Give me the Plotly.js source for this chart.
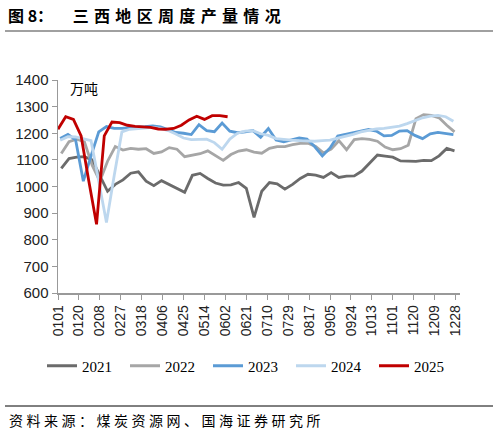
<!DOCTYPE html>
<html>
<head>
<meta charset="utf-8">
<script src="https://cdn.plot.ly/plotly-3.0.1.min.js"></script>
<style>
  html, body { margin: 0; padding: 0; background: #fff; }
  #chart { width: 499px; height: 434px; }
</style>
</head>
<body>
<div id="chart"></div>
<script>
// x axis tick labels (MMDD), one every 19 days from Jan 1
var tickLabels = ['0101','0120','0208','0227','0318','0406','0425','0514','0602','0621',
                  '0710','0729','0817','0905','0924','1013','1101','1120','1209','1228'];

var years = ['2021', '2022', '2023', '2024', '2025'];

// day-of-year of the first weekly reading for each year
var startDay = { '2021': 3, '2022': 3, '2023': 2, '2024': 2, '2025': 0 };

// weekly output, 万吨
var v2021 = [1068,1105,1110,1112,1100,1043,982,1008,1025,1050,1055,1020,1003,1022,1008,995,
             978,1042,1049,1030,1013,1005,1006,1015,993,884,982,1015,1010,990,1008,1030,
             1046,1043,1034,1052,1034,1039,1040,1058,1088,1118,1114,1110,1096,1096,1094,1098,
             1097,1115,1143,1134];
var v2022 = [1124,1168,1178,1168,1080,1020,1095,1150,1137,1143,1140,1142,1124,1130,1146,1140,
             1112,1117,1123,1134,1117,1098,1120,1133,1138,1129,1125,1143,1150,1150,1157,1162,
             1163,1150,1126,1140,1172,1138,1176,1180,1177,1170,1148,1138,1142,1155,1255,1270,
             1267,1258,1230,1205];
var v2023 = [1180,1196,1175,1020,1115,1205,1225,1218,1218,1222,1224,1225,1228,1224,1213,1203,
             1200,1195,1232,1210,1206,1238,1208,1202,1205,1210,1185,1218,1175,1168,1175,1182,
             1178,1150,1115,1145,1190,1196,1203,1210,1214,1208,1190,1192,1208,1210,1192,1180,
             1198,1203,1200,1195];
var v2024 = [1174,1187,1186,1180,1172,1020,865,1040,1205,1215,1218,1220,1222,1218,1210,1197,
             1182,1176,1176,1178,1165,1140,1178,1200,1208,1210,1198,1192,1180,1176,1174,1172,
             1170,1170,1172,1174,1182,1188,1196,1205,1211,1216,1218,1223,1227,1236,1248,1258,
             1264,1267,1262,1245];
var v2025 = [1215,1262,1252,1190,1020,858,1190,1242,1240,1230,1226,1224,1222,1216,1215,1218,
             1230,1250,1264,1252,1266,1266,1262];

var values = { '2021': v2021, '2022': v2022, '2023': v2023, '2024': v2024, '2025': v2025 };
var colors = { '2021': '#6b6b6b', '2022': '#a6a6a6', '2023': '#5b9bd5', '2024': '#bdd7ee', '2025': '#c00000' };

// plot area in pixels, used to place the decorations around it
var W = 499, H = 434;
var plotL = 58, plotR = 460, plotT = 80, plotB = 293;
function px(x) { return (x - plotL) / (plotR - plotL); }
function py(y) { return (plotB - y) / (plotB - plotT); }

function spaced(s, gap) { return s.split('').join(gap); }

var traces = years.map(function (yr) {
    var ys = values[yr];
    return {
        type: 'scatter',
        mode: 'lines',
        name: yr,
        x: ys.map(function (_, i) { return startDay[yr] + 7 * i; }),
        y: ys,
        line: { color: colors[yr], width: 2.8 },
        hoverinfo: 'skip'
    };
});

var sansFont = 'Liberation Sans, Arial, sans-serif';
var cjkFont = 'Noto Sans CJK SC, sans-serif';

var layout = {
    width: W,
    height: H,
    margin: { l: plotL, r: W - plotR, t: plotT, b: H - plotB },
    paper_bgcolor: '#fff',
    plot_bgcolor: '#fff',
    title: {
        text: '<b>图 8：\u2003 ' + spaced('三西地区周度产量情况', '\u2004') + '</b>',
        font: { family: cjkFont, size: 16, color: '#000' },
        xref: 'container', yref: 'container',
        x: 8 / W, xanchor: 'left',
        y: 1 - 16 / H, yanchor: 'middle'
    },
    xaxis: {
        range: [0, 365],
        tickmode: 'array',
        tickvals: tickLabels.map(function (_, i) { return 19 * i; }),
        ticktext: tickLabels,
        tickangle: -90,
        ticks: 'outside', ticklen: 5, tickcolor: '#999', tickwidth: 1,
        showline: true, linecolor: '#999', linewidth: 1.5,
        showgrid: false, zeroline: false,
        tickfont: { family: sansFont, size: 14, color: '#222' }
    },
    yaxis: {
        range: [600, 1400],
        tick0: 600, dtick: 100,
        ticks: 'outside', ticklen: 5, tickcolor: '#999', tickwidth: 1,
        showline: true, linecolor: '#999', linewidth: 1.5,
        showgrid: false, zeroline: false,
        tickfont: { family: sansFont, size: 15, color: '#222' }
    },
    showlegend: true,
    legend: {
        orientation: 'h',
        xref: 'paper', yref: 'paper',
        x: px(42), xanchor: 'left',
        y: py(366), yanchor: 'middle',
        entrywidth: 38,
        font: { family: 'Liberation Serif, Times New Roman, serif', size: 15, color: '#000' },
        bgcolor: 'rgba(0,0,0,0)'
    },
    shapes: [
        { type: 'line', xref: 'paper', yref: 'paper', x0: px(5), x1: px(493), y0: py(31), y1: py(31),
          line: { color: '#808080', width: 1.5 } },
        { type: 'line', xref: 'paper', yref: 'paper', x0: px(5), x1: px(493), y0: py(406), y1: py(406),
          line: { color: '#000', width: 1 } }
    ],
    annotations: [
        { text: '万吨', xref: 'paper', yref: 'paper', x: px(68), y: py(88),
          xanchor: 'left', yanchor: 'middle', showarrow: false,
          font: { family: cjkFont, size: 14, color: '#000' } },
        { text: spaced('资料来源：煤炭资源网、国海证券研究所', '\u2005'), xref: 'paper', yref: 'paper',
          x: px(7), y: py(420), xanchor: 'left', yanchor: 'middle', showarrow: false,
          font: { family: cjkFont, size: 14, color: '#000' } }
    ]
};

Plotly.newPlot('chart', traces, layout, { displayModeBar: false, staticPlot: true });
</script>
</body>
</html>
